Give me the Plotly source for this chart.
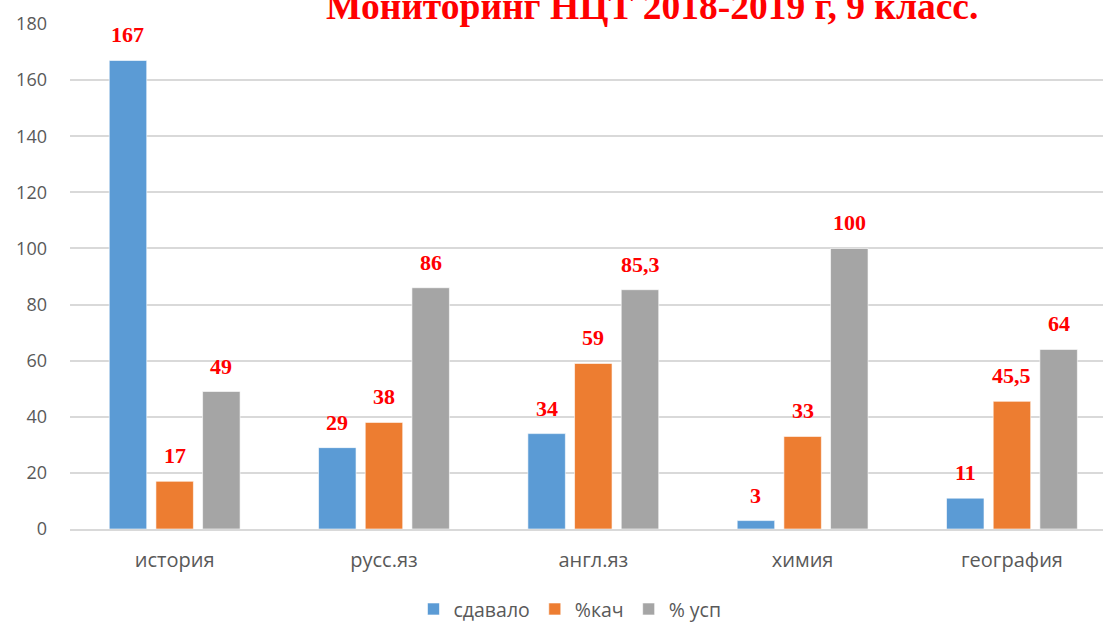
import plotly.graph_objects as go

categories = ["история", "русс.яз", "англ.яз", "химия", "география"]
series_names = ["сдавало", "%кач", "% усп"]
sdavalo = [167, 29, 34, 3, 11]
kach = [17, 38, 59, 33, 45.5]
usp = [49, 86, 85.3, 100, 64]
label_sdavalo = ["167", "29", "34", "3", "11"]
label_kach = ["17", "38", "59", "33", "45,5"]
label_usp = ["49", "86", "85,3", "100", "64"]
y_ticks = [0, 20, 40, 60, 80, 100, 120, 140, 160, 180]
title_text = "Мониторинг НЦТ 2018-2019 г, 9 класс."

colors = ["#5B9BD5", "#ED7D31", "#A5A5A5"]
values = [sdavalo, kach, usp]
labels = [label_sdavalo, label_kach, label_usp]

fig = go.Figure()
for name, vals, col in zip(series_names, values, colors):
    fig.add_trace(go.Bar(
        x=categories, y=vals, name=name,
        marker=dict(color=col, line=dict(color="rgba(255,255,255,0.6)", width=1)),
        hoverinfo="skip",
    ))

shifts = [-46.7, 0, 46.7]
for labs, vals, sh in zip(labels, values, shifts):
    for c, v, t in zip(categories, vals, labs):
        fig.add_annotation(
            x=c, y=v, xref="x", yref="y", text="<b>%s</b>" % t,
            showarrow=False, xshift=sh, yanchor="bottom", yshift=11,
            font=dict(family="Liberation Serif, Times New Roman, serif", size=22, color="#FF0000"),
        )

fig.add_annotation(
    x=0.563, y=1, xref="paper", yref="paper", text="<b>%s</b>" % title_text,
    showarrow=False, xanchor="center", yanchor="bottom", yshift=-5,
    font=dict(family="Liberation Serif, Times New Roman, serif", size=37.5, color="#FF0000"),
)

fig.update_layout(
    width=1103, height=623,
    margin=dict(l=70, r=0, t=24, b=94, autoexpand=False),
    paper_bgcolor="white", plot_bgcolor="white",
    barmode="group", bargap=0.331, bargroupgap=0.197,
    font=dict(family="Open Sans, sans-serif", size=18, color="#595959"),
    showlegend=True,
    legend=dict(orientation="h", x=0.484, xanchor="center", y=-0.159, yanchor="middle",
                font=dict(size=19.5, color="#595959"), itemwidth=30, traceorder="normal"),
)
fig.update_xaxes(
    type="category", range=[-0.5, 4.435], showgrid=False, showline=True,
    linecolor="#D9D9D9", linewidth=1.5, ticks="", ticklabelstandoff=12,
    tickfont=dict(size=20, color="#595959"),
)
fig.update_yaxes(
    range=[0, 180], tickvals=y_ticks, showgrid=True, gridcolor="#D9D9D9", gridwidth=1.5,
    zeroline=False, showline=False, ticks="", ticklabelstandoff=22,
    tickfont=dict(size=18, color="#595959"),
)

fig.write_html("out.html", config={"displayModeBar": False},
               post_script="document.body.style.margin='0';document.body.style.overflow='hidden';")
